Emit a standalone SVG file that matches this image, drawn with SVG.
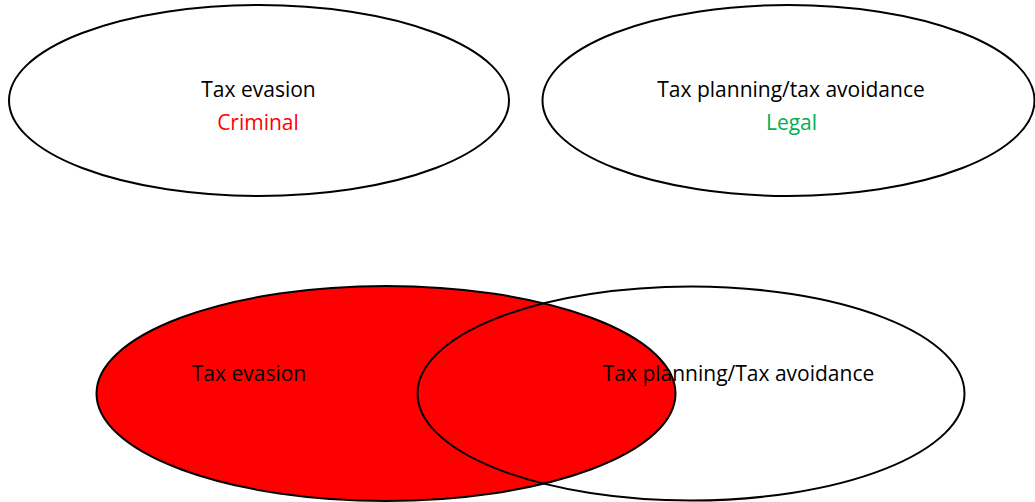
<svg xmlns="http://www.w3.org/2000/svg" width="1035" height="502" viewBox="0 0 1035 502">
<style>
.e{stroke:#000;stroke-width:2}
.t{font-family:"Open Sans","Liberation Sans",sans-serif;font-size:21px;text-anchor:middle;fill:#000}
</style>
<rect width="1035" height="502" fill="#fff"/>
<g id="evasion-top">
<ellipse class="e" cx="259" cy="100.5" rx="250" ry="95.5" fill="#fff"/>
<text class="t" x="258.5" y="96.5">Tax evasion</text>
<text class="t" x="258" y="129.5" style="fill:#FF0000">Criminal</text>
</g>
<g id="avoidance-top">
<ellipse class="e" cx="788.5" cy="100.5" rx="246" ry="95.5" fill="#fff"/>
<text class="t" x="791" y="96.5">Tax planning/tax avoidance</text>
<text class="t" x="791.5" y="129.5" style="fill:#00B050">Legal</text>
</g>
<g id="evasion-bottom">
<ellipse class="e" cx="386" cy="393.5" rx="289.5" ry="107.5" fill="#FF0000"/>
</g>
<g id="avoidance-bottom">
<ellipse class="e" cx="691" cy="393.5" rx="273.5" ry="107" fill="none"/>
</g>
<g id="labels-bottom">
<text class="t" x="249" y="380.5">Tax evasion</text>
<text class="t" x="738.5" y="380.5">Tax planning/Tax avoidance</text>
</g>
<g id="connectors"></g>
</svg>
